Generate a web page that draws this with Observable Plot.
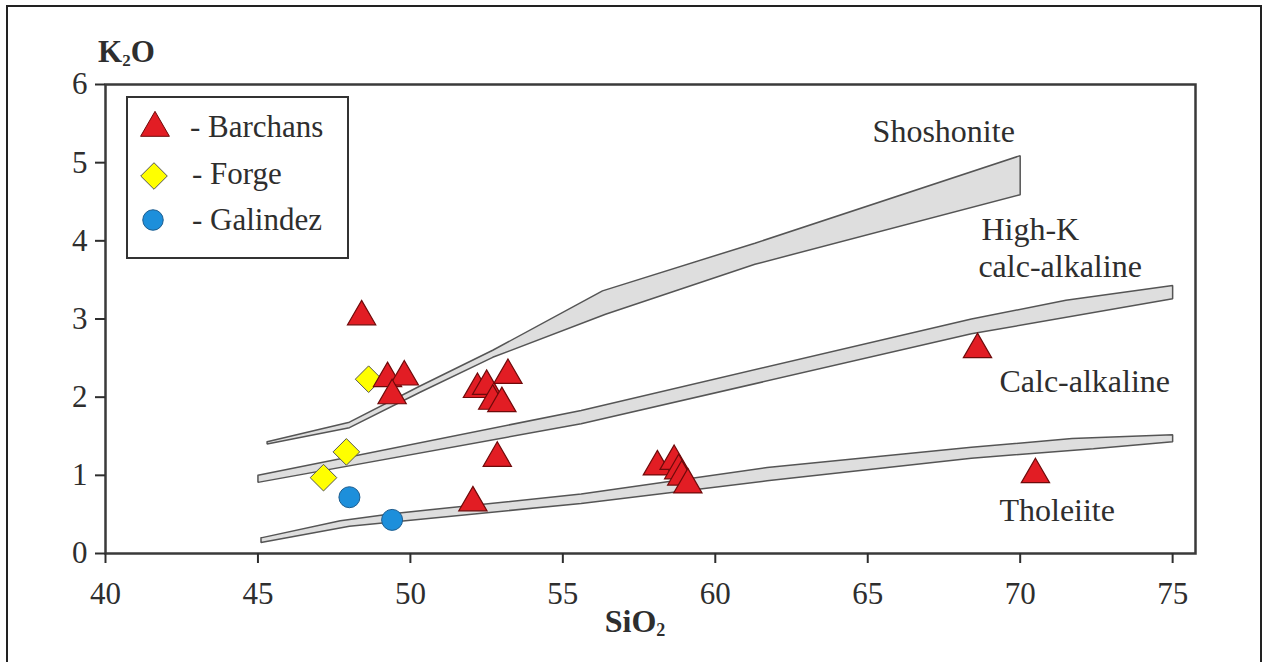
<!DOCTYPE html>
<html>
<head>
<meta charset="utf-8">
<script src="https://cdn.jsdelivr.net/npm/d3@7"></script>
<script src="https://cdn.jsdelivr.net/npm/@observablehq/plot@0.6"></script>
<style>
  html, body { margin: 0; padding: 0; background: #fff; }
  #wrap { position: relative; width: 1268px; height: 662px; overflow: hidden; }
  #overlay { position: absolute; left: 0; top: 0; pointer-events: none; }
</style>
</head>
<body>
<div id="wrap"></div>
<script>
// ---- data ----
const xTicks = [40, 45, 50, 55, 60, 65, 70, 75];
const yTicks = [0, 1, 2, 3, 4, 5, 6];

// boundary bands (SiO2, K2O)
const shoUpper = [[45.3,1.43],[48.0,1.68],[50.3,2.14],[52.7,2.60],[56.3,3.36],[61.3,3.97],[70.0,5.09]];
const shoLower = [[45.3,1.40],[48.0,1.61],[50.3,2.06],[52.7,2.51],[56.4,3.06],[61.3,3.70],[70.0,4.59]];
const hkUpper = [[45.0,1.00],[55.6,1.83],[68.4,3.00],[71.5,3.24],[75.0,3.43]];
const hkLower = [[45.0,0.91],[55.6,1.66],[68.4,2.81],[75.0,3.26]];
const thUpper = [[45.1,0.20],[47.7,0.42],[49.4,0.51],[55.6,0.76],[61.7,1.10],[68.4,1.36],[71.7,1.47],[75.0,1.52]];
const thLower = [[45.1,0.14],[48.0,0.35],[55.6,0.64],[61.7,0.93],[68.4,1.22],[72.4,1.34],[75.0,1.43]];

// samples (SiO2, K2O)
const barchans = [[48.4,3.03],[49.25,2.24],[49.8,2.26],[49.4,2.02],[52.2,2.10],[52.5,2.14],[52.7,1.95],[53.0,1.92],[53.2,2.28],[52.85,1.22],[52.05,0.65],[58.1,1.11],[58.65,1.18],[58.8,1.06],[58.9,0.98],[59.1,0.88],[68.6,2.61],[70.5,1.01]];
const forge = [[48.63,2.23],[47.9,1.30],[47.15,0.97]];
const galindez = [[48.0,0.72],[49.4,0.43]];

const regionLabels = [
  {text: "Shoshonite", x: 65.16, y: 5.40},
  {text: "High-K", x: 68.73, y: 4.14},
  {text: "calc-alkaline", x: 68.63, y: 3.67},
  {text: "Calc-alkaline", x: 69.32, y: 2.20},
  {text: "Tholeiite", x: 69.32, y: 0.55}
];

const legendItems = [
  {label: "- Barchans", symbol: d3.symbolTriangle, size: 360, fill: "#e21d24", stroke: "#6e0a0a"},
  {label: "- Forge", symbol: d3.symbolDiamond2, size: 450, fill: "#ffff00", stroke: "#555"},
  {label: "- Galindez", symbol: d3.symbolCircle, size: 330, fill: "#1d8fdb", stroke: "#1d5d8f"}
];

// ---- chart ----
const poly = (up, lo) => [...up, ...lo.slice().reverse(), up[0]];
const bandStyle = {x: d => d[0], y: d => d[1], fill: "#dedede", stroke: "#555", strokeWidth: 1.5, strokeLinejoin: "miter"};
const txtColor = "#2e2e2e";

const chart = Plot.plot({
  width: 1268,
  height: 662,
  marginLeft: 105,
  marginRight: 73,
  marginTop: 84,
  marginBottom: 109,
  x: {domain: [40, 75.75]},
  y: {domain: [0, 6]},
  style: {fontFamily: "'Liberation Serif', 'Times New Roman', serif", fontSize: "30px", color: txtColor, background: "transparent", overflow: "visible"},
  marks: [
    Plot.line(poly(shoUpper, shoLower), bandStyle),
    Plot.line(poly(hkUpper, hkLower), bandStyle),
    Plot.line(poly(thUpper, thLower), bandStyle),
    Plot.frame({stroke: "#3a3a3a", strokeWidth: 2.5}),
    Plot.axisX({ticks: xTicks, tickFormat: d => String(d), tickSize: 10, tickPadding: 18, strokeWidth: 2, label: null, fontSize: 31}),
    Plot.axisY({ticks: yTicks, tickFormat: d => String(d), tickSize: 10, tickPadding: 8, strokeWidth: 2, label: null, fontSize: 31}),
    Plot.dot(galindez, {x: d => d[0], y: d => d[1], symbol: "circle", r: 10.5, fill: "#1d8fdb", stroke: "#1d5d8f", strokeWidth: 1}),
    Plot.dot(forge, {x: d => d[0], y: d => d[1], symbol: "diamond2", r: 12, fill: "#ffff00", stroke: "#555", strokeWidth: 1}),
    Plot.dot(barchans, {x: d => d[0], y: d => d[1], symbol: "triangle", r: 10.5, fill: "#e21d24", stroke: "#6e0a0a", strokeWidth: 1.2}),
    Plot.text(regionLabels, {x: "x", y: "y", text: "text", textAnchor: "start", fontSize: 32, fill: txtColor})
  ]
});

const wrap = document.getElementById("wrap");
wrap.appendChild(chart);

// ---- overlay: titles, legend, border ----
const ov = d3.select(wrap).append("svg")
  .attr("id", "overlay").attr("width", 1268).attr("height", 662)
  .style("font-family", "'Liberation Serif', 'Times New Roman', serif");

// outer border
ov.append("rect").attr("x", 7).attr("y", 6).attr("width", 1254).attr("height", 700)
  .attr("fill", "none").attr("stroke", "#222").attr("stroke-width", 2);

// axis titles
const k = ov.append("text").attr("x", 98).attr("y", 62).attr("font-weight", "bold").attr("font-size", 31).attr("fill", txtColor);
k.append("tspan").text("K");
k.append("tspan").attr("font-size", 17).attr("dy", 4).text("2");
k.append("tspan").attr("dy", -4).text("O");

const s = ov.append("text").attr("x", 635).attr("y", 632).attr("text-anchor", "middle").attr("font-weight", "bold").attr("font-size", 32).attr("fill", txtColor);
s.append("tspan").text("SiO");
s.append("tspan").attr("font-size", 18).attr("dy", 4).text("2");

// legend
const lg = ov.append("g").attr("transform", "translate(127,97)");
lg.append("rect").attr("width", 221).attr("height", 161).attr("fill", "#fff").attr("stroke", "#333").attr("stroke-width", 2);
const symX = [28, 27, 26], symY = [31, 79, 123], txtX = [63, 65, 65], txtY = [40, 87, 133];
legendItems.forEach((it, i) => {
  lg.append("path").attr("d", d3.symbol(it.symbol, it.size)())
    .attr("transform", `translate(${symX[i]},${symY[i]})`)
    .attr("fill", it.fill).attr("stroke", it.stroke).attr("stroke-width", 1);
  lg.append("text").attr("x", txtX[i]).attr("y", txtY[i]).attr("font-size", 31).attr("fill", txtColor).text(it.label);
});
</script>
</body>
</html>
